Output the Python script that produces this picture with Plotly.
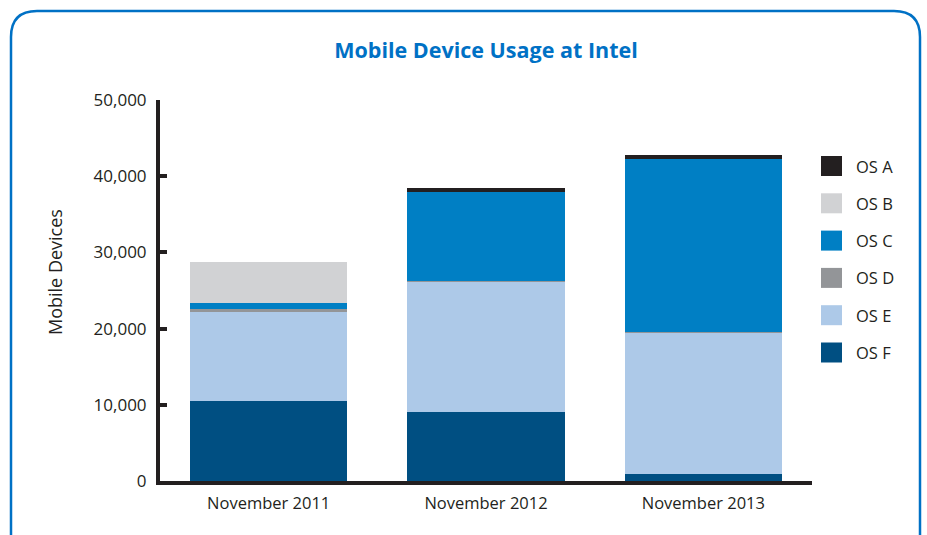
import plotly.graph_objects as go

categories = ["November 2011", "November 2012", "November 2013"]
series_names = ["OS A", "OS B", "OS C", "OS D", "OS E", "OS F"]
os_a = [0, 550, 550]
os_b = [5300, 0, 0]
os_c = [800, 11650, 22700]
os_d = [400, 100, 100]
os_e = [11700, 17100, 18550]
os_f = [10500, 9050, 900]
y_ticks = [0, 10000, 20000, 30000, 40000, 50000]
y_tick_labels = ["0", "10,000", "20,000", "30,000", "40,000", "50,000"]
y_title = "Mobile Devices"

colors = {
    "OS A": "#231f20",
    "OS B": "#d1d2d4",
    "OS C": "#007fc4",
    "OS D": "#939598",
    "OS E": "#adc9e8",
    "OS F": "#004f82",
}
values = {"OS A": os_a, "OS B": os_b, "OS C": os_c, "OS D": os_d, "OS E": os_e, "OS F": os_f}

W, H = 927, 535
L, R, T, B = 160, 115, 100, 54
PW, PH = W - L - R, H - T - B

def px(x):
    return (x - L) / PW

def py(y):
    return (H - B - y) / PH

FONT = "Open Sans"
TXT = "#231f20"

fig = go.Figure()
# stack bottom to top: F, E, D, C, B, A
for name in reversed(series_names):
    fig.add_trace(go.Bar(
        x=categories, y=values[name], name=name,
        marker=dict(color=colors[name], line=dict(width=0)),
        showlegend=False,
    ))

shapes = []
annotations = []
# manual legend
leg_x0, leg_x1 = 821, 842
leg_y0, step = 166, 37.3
for i, name in enumerate(series_names):
    cy = leg_y0 + i * step
    shapes.append(dict(type="rect", xref="paper", yref="paper",
                       x0=px(leg_x0), x1=px(leg_x1), y0=py(cy + 10), y1=py(cy - 10),
                       fillcolor=colors[name], line=dict(width=0)))
    annotations.append(dict(text=name, xref="paper", yref="paper",
                            x=px(854), y=py(cy), xanchor="left", yanchor="middle",
                            showarrow=False, font=dict(family=FONT, size=16.5, color=TXT)))

# y-axis title
annotations.append(dict(text=y_title, xref="paper", yref="paper",
                        x=px(55), y=py(272), xanchor="center", yanchor="middle",
                        textangle=-90, showarrow=False,
                        font=dict(family=FONT, size=18, color=TXT)))

# rounded border
x0b, x1b, y0b, y1b, r = 11, 920, 11, 600, 26
path = (f"M {px(x0b)},{py(y1b)} L {px(x0b)},{py(y0b + r)} "
        f"Q {px(x0b)},{py(y0b)} {px(x0b + r)},{py(y0b)} "
        f"L {px(x1b - r)},{py(y0b)} "
        f"Q {px(x1b)},{py(y0b)} {px(x1b)},{py(y0b + r)} "
        f"L {px(x1b)},{py(y1b)}")
shapes.append(dict(type="path", xref="paper", yref="paper", path=path,
                   line=dict(color="#0071c5", width=2.5), layer="below"))

fig.update_layout(
    width=W, height=H,
    margin=dict(l=L, r=R, t=T, b=B, pad=0),
    barmode="stack",
    bargap=0.276,
    plot_bgcolor="white", paper_bgcolor="white",
    font=dict(family=FONT, size=17, color=TXT),
    title=dict(text="<b>Mobile Device Usage at Intel</b>", x=0.5, xref="paper",
               y=1 - 50 / H, yanchor="middle",
               font=dict(family=FONT, size=21.5, color="#0071c5")),
    xaxis=dict(range=[-0.5, 2.5], showline=True, linecolor=TXT, linewidth=4,
               ticks="", showgrid=False, zeroline=False, ticklabelstandoff=4,
               tickfont=dict(family=FONT, size=16.5, color=TXT)),
    yaxis=dict(range=[0, 50000], tickvals=y_ticks, ticktext=y_tick_labels,
               showline=True, linecolor=TXT, linewidth=4,
               ticks="inside", ticklen=7, tickwidth=4, tickcolor=TXT,
               showgrid=False, zeroline=False, ticklabelstandoff=6,
               tickfont=dict(family=FONT, size=17, color=TXT)),
    shapes=shapes,
    annotations=annotations,
)

fig.write_html("out.html")
